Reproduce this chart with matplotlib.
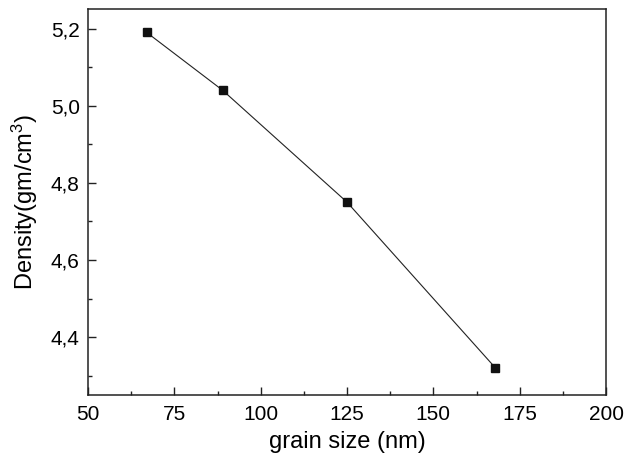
import numpy as np
import matplotlib
matplotlib.use("Agg")
import matplotlib.pyplot as plt
from matplotlib.ticker import MultipleLocator, FuncFormatter

# data
grain_size = [67, 89, 125, 168]
density = [5.19, 5.04, 4.75, 4.32]

plt.rcParams['font.family'] = ['Liberation Sans', 'DejaVu Sans']
plt.rcParams['mathtext.default'] = 'regular'

fig = plt.figure(figsize=(6.25, 4.61), dpi=100)
ax = fig.add_axes([0.1408, 0.1432, 0.8288, 0.8366])

ax.plot(grain_size, density, color='#222222', lw=0.8, marker='s',
        markersize=5.5, markerfacecolor='#111111', markeredgecolor='#111111')

ax.set_xlim(50, 200)
ax.set_ylim(4.25, 5.25)
ax.xaxis.set_major_locator(MultipleLocator(25))
ax.xaxis.set_minor_locator(MultipleLocator(12.5))
ax.yaxis.set_major_locator(MultipleLocator(0.2))
ax.yaxis.set_minor_locator(MultipleLocator(0.1))
ax.yaxis.set_major_formatter(FuncFormatter(lambda v, p: ("%.1f" % v).replace('.', ',')))

ax.tick_params(which='both', direction='in', top=False, right=False, labelsize=15, width=1, color='#222222')
ax.tick_params(axis='x', which='major', length=5.5, pad=7)
ax.tick_params(axis='y', which='major', length=5.5, pad=6)
ax.tick_params(which='minor', length=3)
for s in ax.spines.values():
    s.set_linewidth(1.1)
    s.set_color('#222222')

ax.set_xlabel('grain size (nm)', fontsize=17, labelpad=5)
ax.set_ylabel('Density(gm/cm$^3$)', fontsize=17, labelpad=8)

fig.savefig('out.png', dpi=100)
